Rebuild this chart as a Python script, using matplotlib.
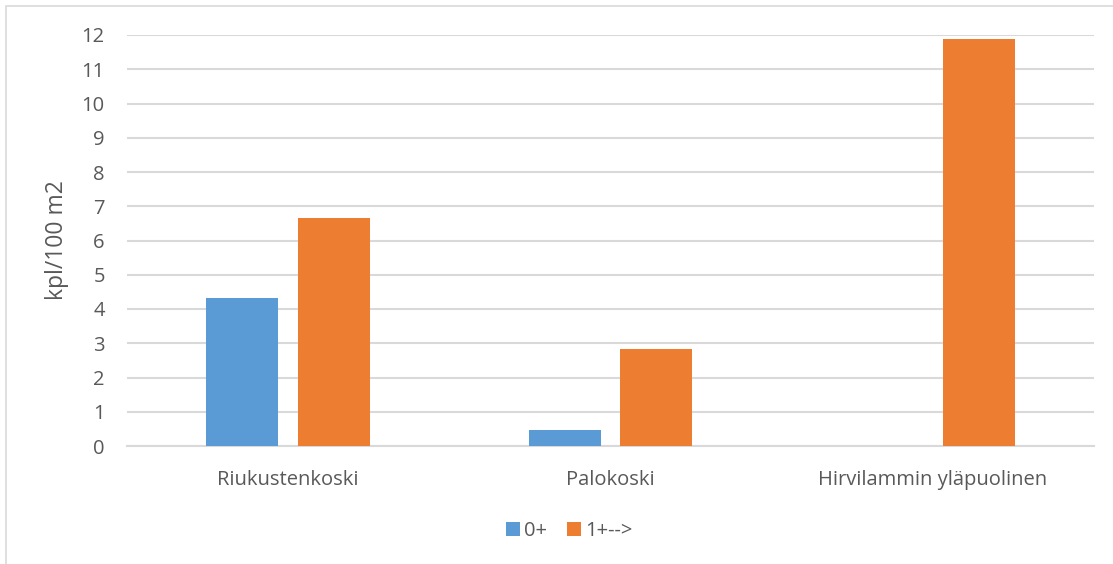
import matplotlib
matplotlib.use("Agg")
import matplotlib.pyplot as plt
from matplotlib.patches import Rectangle, Patch
import numpy as np

categories = ["Riukustenkoski", "Palokoski", "Hirvilammin yläpuolinen"]
series_names = ["0+", "1+-->"]
values_0 = [4.31, 0.46, 0.0]
values_1 = [6.65, 2.84, 11.89]
y_ticks = list(range(0, 13))
y_label = "kpl/100 m2"

colors = ["#5B9BD5", "#ED7D31"]
text_color = "#595959"
grid_color = "#D9D9D9"

plt.rcParams["font.family"] = ["Open Sans", "DejaVu Sans"]

W, H, DPI = 1113, 564, 100
fig = plt.figure(figsize=(W / DPI, H / DPI), dpi=DPI)
fig.patch.set_facecolor("white")

# chart frame
fig.patches.append(Rectangle((6 / W, -0.01), 1.02 - 6 / W, 1 - 6 / H + 0.01,
                             transform=fig.transFigure, fill=False,
                             edgecolor=grid_color, linewidth=1.2))

left, right, top, bottom = 127, 1094, 35, 446
ax = fig.add_axes([left / W, 1 - bottom / H, (right - left) / W, (bottom - top) / H])

x = np.arange(len(categories))
bw = 0.224
off = 0.142
ax.bar(x - off, values_0, bw, color=colors[0], zorder=3)
ax.bar(x + off, values_1, bw, color=colors[1], zorder=3)

ax.set_xlim(-0.5, 2.5)
ax.set_ylim(0, 12)
ax.set_yticks(y_ticks)
ax.set_xticks(x)
ax.set_xticklabels(categories)
ax.tick_params(axis="both", length=0, colors=text_color, labelsize=14.5)
ax.tick_params(axis="x", pad=17)
ax.tick_params(axis="y", pad=16)
ax.yaxis.grid(True, color=grid_color, linewidth=1.5, zorder=0)
ax.set_axisbelow(True)
for s in ["top", "right", "left"]:
    ax.spines[s].set_visible(False)
ax.spines["bottom"].set_color(grid_color)
ax.spines["bottom"].set_linewidth(1.5)

ax.set_ylabel(y_label, color=text_color, fontsize=16.5)
ax.yaxis.set_label_coords((69 - left) / (right - left), 0.5)

handles = [Patch(facecolor=c, edgecolor="none") for c in colors]
fig.legend(handles, series_names, loc="center", bbox_to_anchor=(569 / W, 1 - 531 / H),
           ncol=2, frameon=False, fontsize=14.5, labelcolor=text_color,
           handlelength=0.7, handleheight=0.7, handletextpad=0.2, columnspacing=1.0)

fig.savefig("out.png", dpi=DPI, facecolor="white")
